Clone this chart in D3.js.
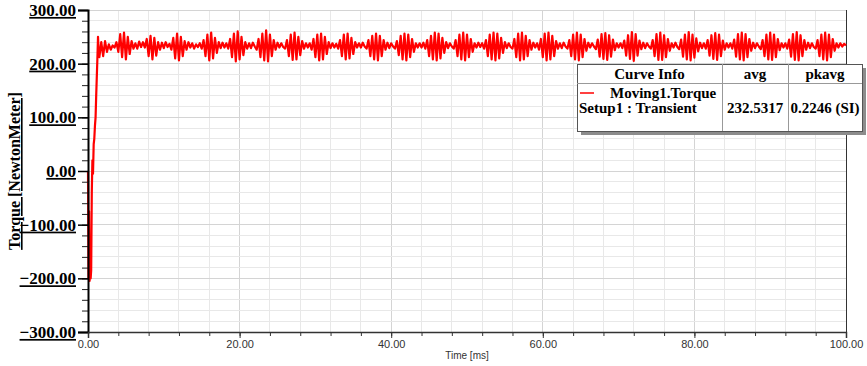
<!DOCTYPE html>
<html>
<head>
<meta charset="utf-8">
<script src="https://cdn.jsdelivr.net/npm/d3@7"></script>
<style>
  body { margin: 0; background: #fff; }
  svg { display: block; }
  .ylab text { font-family: "Liberation Serif", serif; font-weight: bold; font-size: 17px; fill: #000; text-decoration: underline; }
  .xlab text { font-family: "Liberation Sans", Arial, sans-serif; font-size: 11px; fill: #333; }
  .legend text { font-family: "Liberation Serif", serif; font-weight: bold; font-size: 15px; fill: #000; }
</style>
</head>
<body>
<div id="chart"></div>
<script>
// start-up transient (ms / N.m)
const transientTime = [0, 0.07, 0.14, 0.21, 0.28, 0.35, 0.42, 0.5, 0.58, 0.66, 0.75, 0.83, 0.92, 1.0, 1.08, 1.16, 1.24, 1.32, 1.4, 1.5];
const transientTorque = [0, -200, -75, -205, -150, -200, -185, -40, 20, -5, 50, 60, 85, 100, 140, 175, 210, 250, 225, 212];

// steady ripple, sampled every 0.25 ms from 1.75 ms
const rippleStart = 1.75;
const rippleStep = 0.25;
const rippleTorque = [
  240, 214, 242, 222, 236, 226, 234, 230,
  240, 222, 255, 212, 258, 208, 250, 218, 242, 228,
  238, 228, 241, 231, 240,
  230, 246, 214, 252, 208, 248, 215, 240, 226,
  239, 229, 240, 231, 237,
  226, 248, 210, 256, 206, 250, 214, 242, 226,
  240, 230, 238, 228, 236, 231, 238,
  228, 244, 214, 254, 206, 258, 210, 248, 220, 240,
  229, 239, 230, 238,
  228, 246, 212, 256, 204, 260, 208, 250, 216, 240, 228,
  238, 229, 239, 232,
  226, 246, 212, 256, 206, 262, 204, 254, 214, 244, 226,
  239, 230, 238, 231,
  228, 244, 214, 254, 207, 258, 208, 250, 216, 242, 228,
  238, 230, 238,
  226, 246, 212, 254, 206, 256, 208, 250, 218, 240, 229,
  238, 230, 237,
  228, 244, 214, 254, 208, 256, 210, 248, 218, 240,
  230, 238, 230, 239, 232,
  228, 244, 214, 252, 208, 256, 206, 252, 214, 244, 226,
  239, 229, 238, 232,
  228, 242, 216, 252, 208, 256, 206, 254, 212, 246, 222, 238,
  230, 238, 230, 239,
  228, 244, 214, 252, 208, 258, 206, 256, 210, 248, 220, 240,
  229, 238, 232,
  228, 244, 214, 254, 208, 258, 206, 254, 212, 246, 222, 238,
  230, 239, 231, 238,
  228, 244, 214, 254, 208, 258, 206, 256, 210, 248, 220, 240,
  229, 238, 231,
  228, 246, 212, 256, 206, 258, 208, 252, 214, 244, 226,
  239, 230, 238,
  226, 246, 212, 256, 206, 258, 208, 252, 214, 242, 228,
  238, 229, 239, 232,
  228, 244, 214, 254, 208, 258, 206, 254, 212, 246, 224,
  239, 230, 238, 232,
  227, 245, 213, 255, 209, 257, 207, 253, 213, 245, 225,
  238, 230, 238,
  229, 243, 215, 253, 209, 259, 205, 255, 215, 243, 227,
  239, 229, 238, 232,
  228, 244, 214, 255, 207, 258, 207, 253, 212, 246, 224,
  238, 230, 239, 231,
  227, 245, 213, 254, 208, 259, 206, 254, 211, 247, 223,
  239, 229, 238,
  228, 244, 215, 253, 209, 257, 207, 254, 214, 243, 226,
  238, 230, 238,
  228, 245, 213, 255, 208, 258, 206, 255, 212, 246, 224,
  239, 229, 238, 232,
  227, 244, 214, 254, 208, 258, 207, 254, 212, 246, 225,
  238, 230, 238,
  228, 245, 213, 255, 207, 259, 206, 253, 214, 244, 226,
  239, 229, 238, 231,
  228, 244, 214, 254, 208, 258, 206, 254, 212, 246, 224,
  238, 230, 238, 232, 237, 234
];

const yMajorTicks = [-300, -200, -100, 0, 100, 200, 300];
const xMajorTicks = [0, 20, 40, 60, 80, 100];

const legendHeaders = ['Curve Info', 'avg', 'pkavg'];
const legendCurve = 'Moving1.Torque';
const legendSetup = 'Setup1 : Transient';
const legendAvg = '232.5317';
const legendPkavg = '0.2246 (SI)';

const width = 867, height = 366;
const margin = { top: 10, right: 21, bottom: 34, left: 88 };
const innerW = width - margin.left - margin.right;
const innerH = height - margin.top - margin.bottom;

// combine transient + ripple samples
const series = transientTime.map((t, i) => ({ t: t, v: transientTorque[i] }));
rippleTorque.forEach((v, i) => {
  const t = rippleStart + i * rippleStep;
  if (t <= 100.0001) series.push({ t: t, v: v });
});

const svg = d3.select('#chart').append('svg')
  .attr('width', width)
  .attr('height', height);

const g = svg.append('g').attr('transform', `translate(${margin.left},${margin.top})`);

const x = d3.scaleLinear().domain([0, 100]).range([0, innerW]);
const y = d3.scaleLinear().domain([-300, 300]).range([innerH, 0]);

// grid
g.append('g').selectAll('line')
  .data(d3.range(4, 100, 4))
  .join('line')
  .attr('x1', d => x(d)).attr('x2', d => x(d))
  .attr('y1', 0).attr('y2', innerH)
  .attr('stroke', d => d % 20 === 0 ? '#d4d4d4' : '#e8e8e8')
  .attr('stroke-width', 1)
  .attr('shape-rendering', 'crispEdges');

g.append('g').selectAll('line')
  .data(d3.range(-280, 301, 20))
  .join('line')
  .attr('x1', 0).attr('x2', innerW)
  .attr('y1', d => y(d)).attr('y2', d => y(d))
  .attr('stroke', d => d % 100 === 0 ? '#d4d4d4' : '#e8e8e8')
  .attr('stroke-width', 1)
  .attr('shape-rendering', 'crispEdges');

// right border
g.append('line')
  .attr('x1', innerW).attr('x2', innerW)
  .attr('y1', 0).attr('y2', innerH)
  .attr('stroke', '#333')
  .attr('shape-rendering', 'crispEdges');

// curve
const line = d3.line()
  .x(d => x(d.t))
  .y(d => y(d.v));

g.append('path')
  .datum(series)
  .attr('fill', 'none')
  .attr('stroke', '#ff0000')
  .attr('stroke-width', 2.2)
  .attr('stroke-linejoin', 'round')
  .attr('d', line);

// y axis, minor then major
g.append('g')
  .call(d3.axisLeft(y).tickValues(d3.range(-300, 301, 20)).tickSize(6).tickFormat(''))
  .call(a => a.select('.domain').remove())
  .call(a => a.selectAll('line').attr('stroke', '#222'));

const yAxis = g.append('g')
  .attr('class', 'ylab')
  .call(d3.axisLeft(y).tickValues(yMajorTicks).tickSize(10).tickPadding(2).tickFormat(d3.format('.2f')));
yAxis.select('.domain').attr('stroke', '#000').attr('stroke-width', 2);
yAxis.selectAll('line').attr('stroke', '#000').attr('stroke-width', 1.5);

// x axis
g.append('g')
  .attr('transform', `translate(0,${innerH})`)
  .call(d3.axisBottom(x).tickValues(d3.range(0, 101, 4)).tickSize(4).tickFormat(''))
  .call(a => a.select('.domain').remove())
  .call(a => a.selectAll('line').attr('stroke', '#333'));

const xAxis = g.append('g')
  .attr('class', 'xlab')
  .attr('transform', `translate(0,${innerH})`)
  .call(d3.axisBottom(x).tickValues(xMajorTicks).tickSize(6).tickPadding(2).tickFormat(d3.format('.2f')));
xAxis.select('.domain').attr('stroke', '#333').attr('stroke-width', 1.5);
xAxis.selectAll('line').attr('stroke', '#333');

// axis titles
svg.append('text')
  .attr('transform', `translate(20,${margin.top + innerH / 2}) rotate(-90)`)
  .attr('text-anchor', 'middle')
  .style('font-family', '"Liberation Serif", serif')
  .style('font-weight', 'bold')
  .style('font-size', '16px')
  .style('text-decoration', 'underline')
  .text('Torque [NewtonMeter]');

svg.append('text')
  .attr('x', margin.left + innerW / 2)
  .attr('y', 359)
  .attr('text-anchor', 'middle')
  .style('font-family', '"Liberation Sans", Arial, sans-serif')
  .style('font-size', '10px')
  .style('fill', '#333')
  .text('Time [ms]');

// legend table
const lg = svg.append('g').attr('class', 'legend');
const lx = 577, ly = 64, lw = 285, lh = 67;
const cols = [lx, 722, 788, lx + lw];

lg.append('rect')
  .attr('x', lx + 4).attr('y', ly + 4)
  .attr('width', lw).attr('height', lh)
  .attr('fill', '#8c8c8c');
lg.append('rect')
  .attr('x', lx).attr('y', ly)
  .attr('width', lw).attr('height', lh)
  .attr('fill', '#fff')
  .attr('stroke', '#555')
  .attr('shape-rendering', 'crispEdges');
lg.append('line')
  .attr('x1', lx).attr('x2', lx + lw)
  .attr('y1', 83).attr('y2', 83)
  .attr('stroke', '#999').attr('shape-rendering', 'crispEdges');
[1, 2].forEach(i => {
  lg.append('line')
    .attr('x1', cols[i]).attr('x2', cols[i])
    .attr('y1', ly).attr('y2', ly + lh)
    .attr('stroke', '#999').attr('shape-rendering', 'crispEdges');
});

legendHeaders.forEach((h, i) => {
  lg.append('text')
    .attr('x', (cols[i] + cols[i + 1]) / 2)
    .attr('y', 79)
    .attr('text-anchor', 'middle')
    .text(h);
});

lg.append('line')
  .attr('x1', 580).attr('x2', 594)
  .attr('y1', 93).attr('y2', 93)
  .attr('stroke', '#ff0000').attr('stroke-width', 1.5);
lg.append('text').attr('x', 610).attr('y', 98).text(legendCurve);
lg.append('text').attr('x', 579).attr('y', 113).text(legendSetup);
lg.append('text').attr('x', (cols[1] + cols[2]) / 2).attr('y', 113).attr('text-anchor', 'middle').text(legendAvg);
lg.append('text').attr('x', (cols[2] + cols[3]) / 2).attr('y', 113).attr('text-anchor', 'middle').text(legendPkavg);
</script>
</body>
</html>
